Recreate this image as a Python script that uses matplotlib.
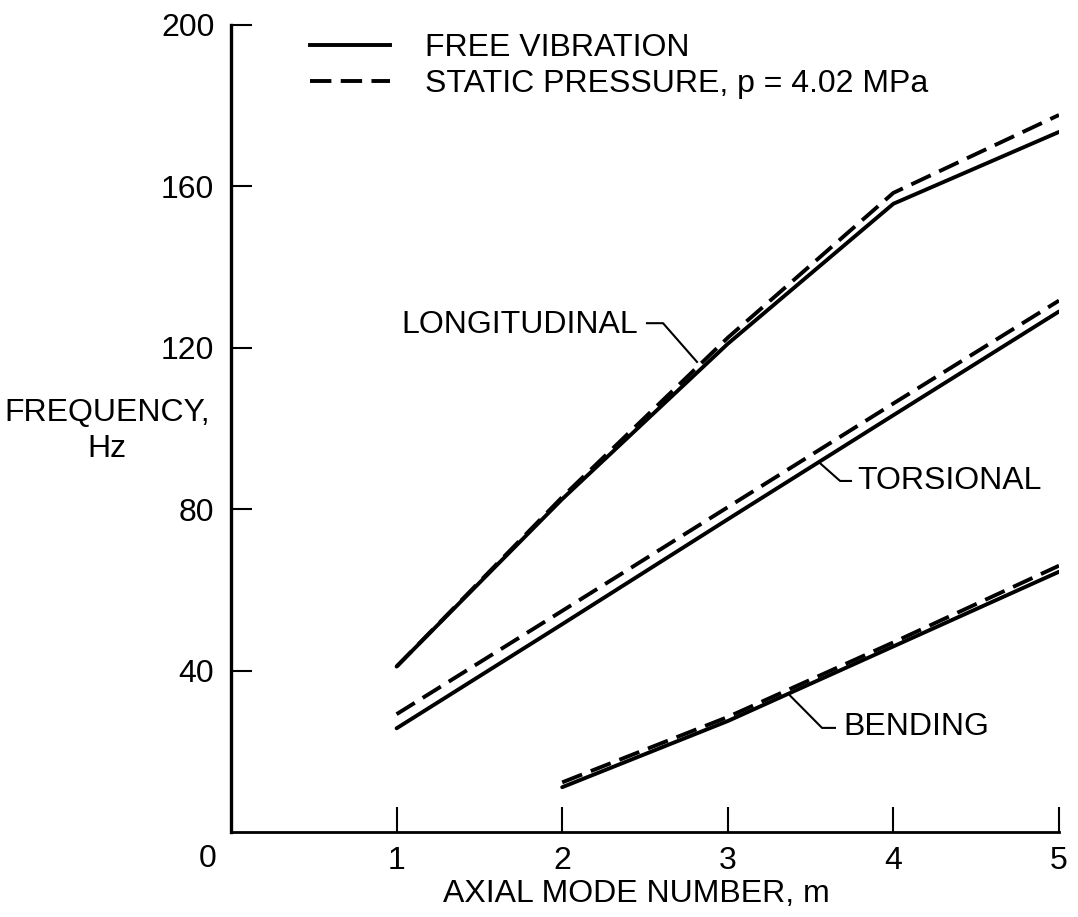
import matplotlib
matplotlib.use("Agg")
import matplotlib.pyplot as plt

plt.rcParams['font.family'] = ['Liberation Sans', 'DejaVu Sans']

# ---- data ----
modes = [1, 2, 3, 4, 5]
long_free = [41.0, 82.5, 121.0, 155.7, 173.5]
long_static = [41.0, 83.0, 122.5, 158.4, 177.7]
tors_free = [25.7, 51.5, 77.5, 103.3, 129.0]
tors_static = [29.2, 54.8, 80.5, 106.2, 131.7]
bend_modes = [2, 3, 4, 5]
bend_free = [11.1, 27.5, 46.0, 64.5]
bend_static = [12.3, 28.5, 47.0, 66.0]

x_ticks = [1, 2, 3, 4, 5]
y_ticks = [40, 80, 120, 160, 200]

legend_labels = ["FREE VIBRATION", "STATIC PRESSURE, p = 4.02 MPa"]

# label annotations (text anchor and leader polyline, data coords)
long_label = ("LONGITUDINAL", 2.458, 125.7)
long_leader = ([2.512, 2.609, 2.814], [126.1, 126.1, 116.5])
tors_label = ("TORSIONAL", 3.78, 87.0)
tors_leader = ([3.744, 3.678, 3.557], [87.0, 87.0, 91.4])
bend_label = ("BENDING", 3.70, 26.0)
bend_leader = ([3.647, 3.569, 3.376], [25.8, 25.8, 33.8])

FS = 23
W, H = 1078, 917
fig = plt.figure(figsize=(W / 100, H / 100), dpi=100)
ax = fig.add_axes([231 / W, 1 - 832 / H, (1059 - 231) / W, (832 - 25) / H])
ax.set_xlim(0, 5)
ax.set_ylim(0, 200)

lw = 2.8
dash = (0, (5.5, 2.4))
ax.plot(modes, long_free, color='black', lw=lw, solid_capstyle='round')
ax.plot(modes, long_static, color='black', lw=lw, linestyle=dash)
ax.plot(modes, tors_free, color='black', lw=lw, solid_capstyle='round')
ax.plot(modes, tors_static, color='black', lw=lw, linestyle=dash)
ax.plot(bend_modes, bend_free, color='black', lw=lw, solid_capstyle='round')
ax.plot(bend_modes, bend_static, color='black', lw=lw, linestyle=dash)

for (txt, x, y), (lx, ly), ha in [(long_label, long_leader, 'right'),
                                  (tors_label, tors_leader, 'left'),
                                  (bend_label, bend_leader, 'left')]:
    ax.text(x, y, txt, fontsize=FS, ha=ha, va='center')
    ax.plot(lx, ly, color='black', lw=1.5)

# axes styling
for s in ['top', 'right']:
    ax.spines[s].set_visible(False)
ax.spines['left'].set_linewidth(2.4)
ax.spines['bottom'].set_linewidth(2.0)
ax.set_xticks(x_ticks)
ax.set_xticklabels([str(t) for t in x_ticks])
ax.set_yticks(y_ticks)
ax.set_yticklabels([str(t) for t in y_ticks])
ax.tick_params(axis='x', direction='in', length=18, width=1.5, pad=10, labelsize=FS)
ax.tick_params(axis='y', direction='in', length=15, width=1.5, pad=12, labelsize=FS)
# origin label
ax.text(-0.14, -27 / 807, "0", fontsize=FS, ha='center', va='center',
        transform=ax.get_xaxis_transform(), clip_on=False)

ax.set_xlabel("AXIAL MODE NUMBER, m", fontsize=FS)
ax.xaxis.set_label_coords(0.49, -62 / 807)
ax.xaxis.label.set_va('center')
fig.text(107 / W, 1 - 431 / H, "FREQUENCY,\nHz", fontsize=FS, ha='center',
         va='center', linespacing=1.3)

h1, = ax.plot([], [], color='black', lw=lw)
h2, = ax.plot([], [], color='black', lw=lw, linestyle=dash)
ax.legend([h1, h2], legend_labels, loc='upper left', frameon=False,
          bbox_to_anchor=((310 - 231) / 828, (832 - 33) / 807), fontsize=FS,
          handlelength=2.5, handletextpad=1.1, labelspacing=0.2,
          borderaxespad=0, borderpad=0)

fig.savefig("out.png", dpi=100)
